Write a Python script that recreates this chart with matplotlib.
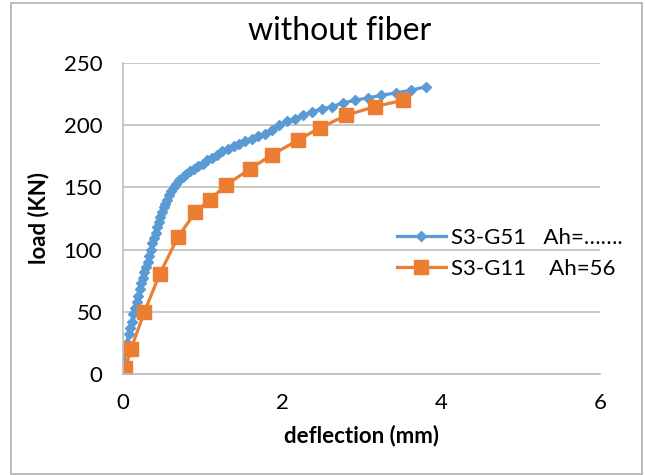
import matplotlib.pyplot as plt
from matplotlib.patches import Rectangle

# S3-G51 (blue, diamonds)
defl_g51 = [0, 0.01, 0.03, 0.05, 0.07, 0.09, 0.11, 0.13, 0.15, 0.17, 0.19, 0.21, 0.23,
            0.25, 0.27, 0.29, 0.31, 0.33, 0.35, 0.37, 0.39, 0.41, 0.43, 0.45, 0.47, 0.49,
            0.51, 0.53, 0.55, 0.58, 0.61, 0.64, 0.67, 0.71, 0.75, 0.79, 0.84, 0.89, 0.94,
            1.00, 1.06, 1.12, 1.18, 1.25, 1.32, 1.39, 1.46, 1.54, 1.62, 1.70, 1.78, 1.87,
            1.96, 2.06, 2.16, 2.27, 2.38, 2.50, 2.63, 2.77, 2.92, 3.08, 3.25, 3.43, 3.62, 3.81]
load_g51 = [0, 10, 20, 25, 32, 37, 42, 48, 53, 58, 63, 68, 73,
            77, 82, 86, 90, 95, 100, 105, 109, 113, 118, 122, 126, 130,
            134, 137, 140, 144, 147, 150, 153, 156, 158, 161, 163, 165, 167,
            169, 172, 174, 176, 179, 181, 183, 185, 187, 189, 191, 193, 196,
            200, 203, 205, 208, 211, 213, 215, 218, 220, 222, 224, 226, 228, 231]

# S3-G11 (orange, squares)
defl_g11 = [0.03, 0.1, 0.27, 0.46, 0.69, 0.91, 1.09, 1.30, 1.60, 1.87, 2.20, 2.48, 2.81, 3.17, 3.52]
load_g11 = [5, 20, 50, 80, 110, 130, 140, 152, 165, 176, 188, 198, 208, 215, 220]

plt.rcParams['font.family'] = ['Lato', 'DejaVu Sans']

W, H = 645, 475
fig = plt.figure(figsize=(W / 100, H / 100), dpi=100)
ax = fig.add_axes([123 / W, 1 - 374 / H, (600 - 123) / W, (374 - 63) / H])

ax.plot(defl_g51, load_g51, color='#5B9BD5', lw=2.3, marker='D', ms=5.5,
        label='S3-G51   Ah=…….')
ax.plot(defl_g11, load_g11, color='#ED7D31', lw=2.3, marker='s', ms=10,
        label='S3-G11    Ah=56')

ax.set_xlim(0, 6)
ax.set_ylim(0, 250)
ax.set_xticks([0, 2, 4, 6])
ax.set_yticks([0, 50, 100, 150, 200, 250])
ax.grid(axis='y', color='#BFBFBF', lw=1.2)
ax.set_axisbelow(True)
for s in ['top', 'right']:
    ax.spines[s].set_visible(False)
for s in ['left', 'bottom']:
    ax.spines[s].set_color('#BFBFBF')
    ax.spines[s].set_linewidth(1.2)
ax.tick_params(length=0, labelsize=16, colors='black')
ax.tick_params(axis='y', pad=15)
ax.tick_params(axis='x', pad=14)

fig.text(340 / W, 1 - 31 / H, 'without fiber', fontsize=23, ha='center', va='center')
ax.set_xlabel('deflection (mm)', fontsize=16, fontweight='bold', labelpad=8)
ax.set_ylabel('load (KN)', fontsize=16, fontweight='bold', labelpad=10)

ax.legend(loc='center left', bbox_to_anchor=(397 / W, 1 - 253.5 / H),
          bbox_transform=fig.transFigure, frameon=False, borderpad=0, borderaxespad=0,
          fontsize=16, handlelength=2.2, labelspacing=0.5, handletextpad=0.25)

fig.patches.append(Rectangle((11 / W, 1 / H), 631 / W, 471 / H, transform=fig.transFigure,
                             fill=False, ec='#B0B0B0', lw=1.2))

fig.savefig('out.png', dpi=100)
